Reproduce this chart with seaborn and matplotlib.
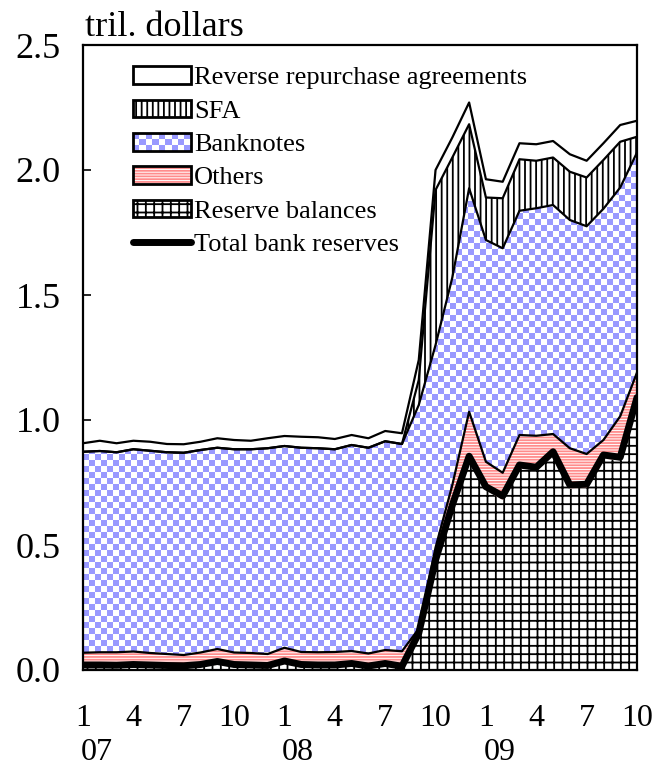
import numpy as np
import pandas as pd
import matplotlib
matplotlib.use("Agg")
import matplotlib.pyplot as plt
import seaborn as sns
from matplotlib.patches import Rectangle, Patch
from matplotlib.lines import Line2D
from matplotlib.legend_handler import HandlerBase
from matplotlib.colors import ListedColormap

# ---------------- data (trillion dollars, monthly Jan 2007 - Oct 2009) ----------------
months = list(range(34))
month_tick_pos = [0, 3, 6, 9, 12, 15, 18, 21, 24, 27, 30, 33]
month_labels = ["1", "4", "7", "10", "1", "4", "7", "10", "1", "4", "7", "10"]
year_pos = [0, 12, 24]
year_labels = ["07", "08", "09"]

reserve_balances = [0.010, 0.010, 0.009, 0.012, 0.010, 0.009, 0.008, 0.012, 0.022, 0.012,
                    0.010, 0.009, 0.024, 0.012, 0.010, 0.010, 0.014, 0.008, 0.016, 0.008,
                    0.135, 0.420, 0.645, 0.840, 0.720, 0.680, 0.805, 0.800, 0.860, 0.725,
                    0.730, 0.845, 0.840, 1.070]
others = [0.059, 0.061, 0.062, 0.062, 0.058, 0.055, 0.052, 0.058, 0.062, 0.058,
          0.058, 0.055, 0.065, 0.060, 0.061, 0.062, 0.062, 0.058, 0.064, 0.067,
          0.030, 0.070, 0.095, 0.193, 0.113, 0.109, 0.135, 0.137, 0.084, 0.162,
          0.134, 0.075, 0.175, 0.120]
banknotes = [0.804, 0.805, 0.800, 0.809, 0.809, 0.807, 0.809, 0.810, 0.805, 0.813,
             0.815, 0.823, 0.807, 0.817, 0.816, 0.811, 0.824, 0.823, 0.835, 0.829,
             0.895, 0.810, 0.830, 0.894, 0.887, 0.898, 0.897, 0.910, 0.916, 0.913,
             0.911, 0.925, 0.915, 0.880]
sfa = [0.0, 0.0, 0.0, 0.0, 0.0, 0.0, 0.0, 0.0, 0.0, 0.0,
       0.0, 0.0, 0.0, 0.0, 0.0, 0.0, 0.0, 0.0, 0.0, 0.0,
       0.100, 0.620, 0.480, 0.256, 0.170, 0.200, 0.206, 0.190, 0.190, 0.193,
       0.195, 0.195, 0.183, 0.063]
reverse_repos = [0.034, 0.041, 0.036, 0.034, 0.036, 0.033, 0.034, 0.033, 0.038, 0.037,
                 0.034, 0.040, 0.040, 0.044, 0.044, 0.041, 0.040, 0.038, 0.041, 0.043,
                 0.080, 0.080, 0.080, 0.087, 0.073, 0.066, 0.064, 0.066, 0.066, 0.070,
                 0.067, 0.067, 0.067, 0.064]
total_bank_reserves = [0.020, 0.020, 0.019, 0.022, 0.020, 0.018, 0.017, 0.022, 0.034, 0.022,
                       0.020, 0.018, 0.036, 0.022, 0.020, 0.020, 0.026, 0.016, 0.026, 0.015,
                       0.147, 0.440, 0.660, 0.855, 0.733, 0.696, 0.820, 0.811, 0.873, 0.740,
                       0.743, 0.860, 0.851, 1.090]

# ---------------- style ----------------
sns.set_theme(style="white")
plt.rcParams["font.family"] = ["Liberation Serif", "DejaVu Serif"]
plt.rcParams["hatch.linewidth"] = 1.3

BLUE = "#9999ff"
RED = "#ff8c8c"
TICK_FS = 26
XLAB_FS = 23

df = pd.DataFrame({
    "month": months,
    "reserve_balances": reserve_balances,
    "others": others,
    "banknotes": banknotes,
    "sfa": sfa,
    "reverse_repos": reverse_repos,
    "total_bank_reserves": total_bank_reserves,
})
x = df["month"].to_numpy(dtype=float)
c1 = df["reserve_balances"].to_numpy()
c2 = c1 + df["others"].to_numpy()
c3 = c2 + df["banknotes"].to_numpy()
c4 = c3 + df["sfa"].to_numpy()
c5 = c4 + df["reverse_repos"].to_numpy()

W, H = 655, 769
fig = plt.figure(figsize=(W / 100, H / 100), dpi=100)
ax_l, ax_r, ax_t, ax_b = 83, 637, 45, 670
ax = fig.add_axes([ax_l / W, 1 - ax_b / H, (ax_r - ax_l) / W, (ax_b - ax_t) / H])

# areas
ax.fill_between(x, 0, c1, facecolor="white", edgecolor="black", hatch="++", linewidth=0, zorder=1)
ax.fill_between(x, c1, c2, facecolor="white", edgecolor=RED, hatch="------", linewidth=0, zorder=1)
bn = ax.fill_between(x, c2, c3, facecolor="white", edgecolor="none", linewidth=0, zorder=1)
ax.fill_between(x, c3, c4, facecolor="white", edgecolor="black", hatch="|||", linewidth=0, zorder=1)
ax.fill_between(x, c4, c5, facecolor="white", edgecolor="none", linewidth=0, zorder=1)

# checkerboard for banknotes, clipped to the banknote area
ny, nx = 104, 92
checker = np.indices((ny, nx)).sum(axis=0) % 2
im = ax.imshow(checker, extent=(0, 33, 0, 2.5), aspect="auto", interpolation="nearest",
               cmap=ListedColormap(["white", BLUE]), zorder=1.5, origin="lower")
im.set_clip_path(bn.get_paths()[0], ax.transData)

# boundary lines
for c in [c2, c3, c4, c5]:
    sns.lineplot(x=x, y=c, color="black", linewidth=1.6, ax=ax, zorder=3, sort=False)
sns.lineplot(x=x, y=df["total_bank_reserves"].to_numpy(), color="black", linewidth=5,
             ax=ax, zorder=4, sort=False)

ax.set_xlim(0, 33)
ax.set_ylim(0, 2.5)
ax.set_xlabel("")
ax.set_ylabel("")

# axes styling
for s in ax.spines.values():
    s.set_color("black")
    s.set_linewidth(1.6)
    s.set_zorder(5)
ax.set_yticks([0, 0.5, 1.0, 1.5, 2.0, 2.5])
ax.set_yticklabels(["0.0", "0.5", "1.0", "1.5", "2.0", "2.5"])
ax.tick_params(axis="y", left=True, direction="in", length=6, width=1.2, labelsize=TICK_FS,
               pad=16, colors="black")
ax.set_xticks([])

xtr = ax.get_xaxis_transform()
for p, lab in zip(month_tick_pos, month_labels):
    ax.text(p, -0.077, lab, transform=xtr, ha="center", va="center", fontsize=XLAB_FS, color="black")
for p, lab in zip(year_pos, year_labels):
    ax.text(p + 0.8, -0.1325, lab, transform=xtr, ha="center", va="center", fontsize=XLAB_FS, color="black")

fig.text(85 / W, 1 - 27 / H, "tril. dollars", ha="left", va="center", fontsize=TICK_FS, color="black")


# ---------------- legend ----------------
class BoxHandler(HandlerBase):
    def __init__(self, kind, hatch=None, hcolor="black"):
        super().__init__()
        self.kind = kind
        self.hatch = hatch
        self.hcolor = hcolor

    def create_artists(self, legend, orig_handle, xdescent, ydescent, width, height, fontsize, trans):
        x0, y0 = -xdescent, -ydescent
        arts = [Rectangle((x0, y0), width, height, facecolor="white", edgecolor="none", transform=trans)]
        if self.kind == "hatch":
            arts.append(Rectangle((x0, y0), width, height, facecolor="none", edgecolor=self.hcolor,
                                  hatch=self.hatch, linewidth=0, transform=trans))
        elif self.kind == "checker":
            n = 9
            sq = width / n
            m = max(1, int(round(height / sq)))
            sqh = height / m
            for i in range(n):
                for j in range(m):
                    if (i + j) % 2 == 0:
                        arts.append(Rectangle((x0 + i * sq, y0 + j * sqh), sq, sqh, facecolor=BLUE,
                                              edgecolor="none", transform=trans))
        arts.append(Rectangle((x0, y0), width, height, facecolor="none", edgecolor="black",
                              linewidth=2, transform=trans))
        return arts


h_rrp = Patch(label="Reverse repurchase agreements")
h_sfa = Patch(label="SFA")
h_bn = Patch(label="Banknotes")
h_oth = Patch(label="Others")
h_res = Patch(label="Reserve balances")
h_tbr = Line2D([0], [0], color="black", linewidth=5, solid_capstyle="round", label="Total bank reserves")

handles = [h_rrp, h_sfa, h_bn, h_oth, h_res, h_tbr]
hmap = {
    h_rrp: BoxHandler("plain"),
    h_sfa: BoxHandler("hatch", "|||", "black"),
    h_bn: BoxHandler("checker"),
    h_oth: BoxHandler("hatch", "------", RED),
    h_res: BoxHandler("hatch", "++", "black"),
}
leg = ax.legend(handles=handles, labels=[h.get_label() for h in handles], handler_map=hmap,
                loc="upper left", bbox_to_anchor=(0.09, 0.966), frameon=False, fontsize=19,
                handlelength=2.2, handleheight=0.65, handletextpad=0.12, labelspacing=0.39,
                borderpad=0, borderaxespad=0)
leg.set_zorder(6)
for t in leg.get_texts():
    t.set_color("black")

fig.savefig("out.png", dpi=100)
